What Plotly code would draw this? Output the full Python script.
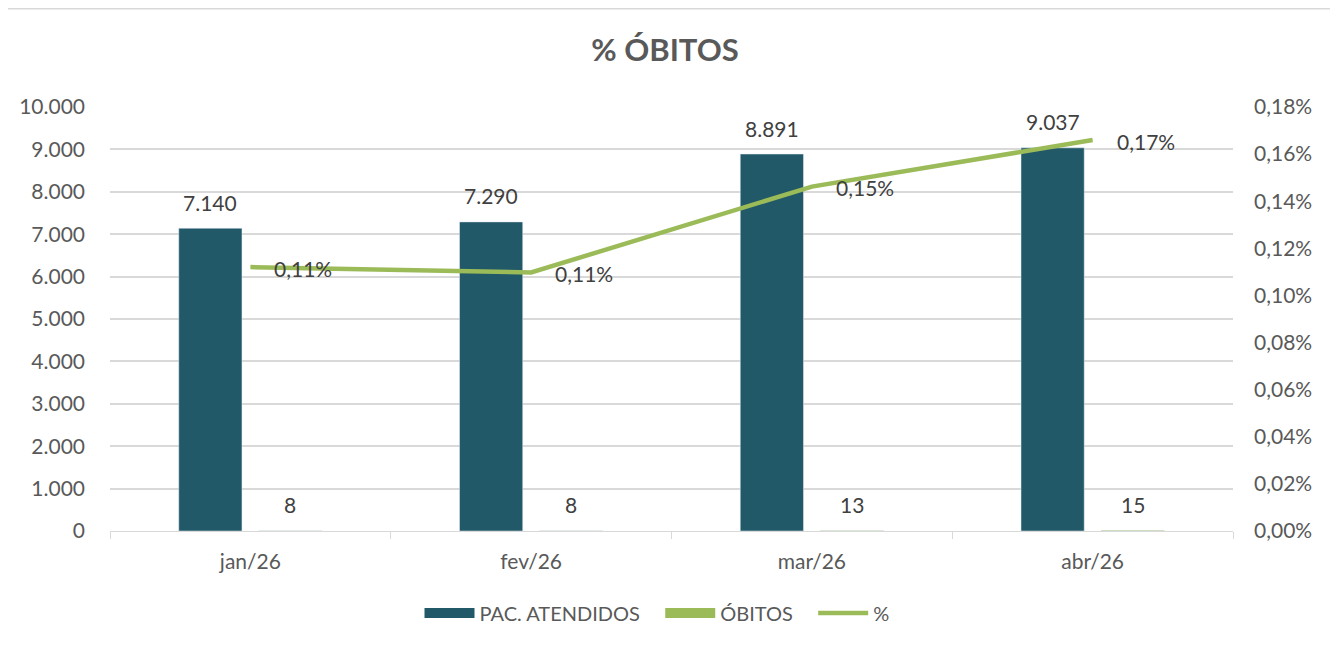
import plotly.graph_objects as go

categories = ["jan/26", "fev/26", "mar/26", "abr/26"]
pac_atendidos = [7140, 7290, 8891, 9037]
obitos = [8, 8, 13, 15]
percent = [o / p for o, p in zip(obitos, pac_atendidos)]
pct_labels = ["0,11%", "0,11%", "0,15%", "0,17%"]

OFF = 8  # page body margin
W, H = 1338 - OFF, 647 - OFF
ML, MT = 110 - OFF, 107 - OFF
PW, PH = 1123, 424
MR, MB = W - ML - PW, H - MT - PH

FONT = "Lato"
TXT = "#595959"
LBL = "#404040"
TEAL = "#225968"
GREEN = "#9BBB59"
GRID = "#D9D9D9"
NBSP = "\u00a0"

def fmt_int(v):
    return f"{v:,}".replace(",", ".")

fig = go.Figure()
fig.add_trace(go.Bar(x=categories, y=pac_atendidos, name="PAC. ATENDIDOS",
                     marker_color=TEAL, yaxis="y", showlegend=False))
fig.add_trace(go.Bar(x=categories, y=obitos, name="ÓBITOS",
                     marker_color=GREEN, yaxis="y", showlegend=False))
fig.add_trace(go.Scatter(x=categories, y=percent, name="%", mode="lines",
                         line=dict(color=GREEN, width=4.5), yaxis="y2", showlegend=False))
# legend entries (wide rectangles like the original)
fig.add_trace(go.Scatter(x=[None], y=[None], mode="lines", name="PAC. ATENDIDOS" + NBSP * 3,
                         line=dict(color=TEAL, width=14)))
fig.add_trace(go.Scatter(x=[None], y=[None], mode="lines", name="ÓBITOS" + NBSP * 3,
                         line=dict(color=GREEN, width=14)))
fig.add_trace(go.Scatter(x=[None], y=[None], mode="lines", name="%",
                         line=dict(color=GREEN, width=4.5)))

ann = []
for c, v in zip(categories, pac_atendidos):
    ann.append(dict(x=c, y=v, xref="x", yref="y", text=fmt_int(v), showarrow=False,
                    xshift=-40, yshift=26, yanchor="middle",
                    font=dict(family=FONT, size=21, color=LBL)))
for c, v in zip(categories, obitos):
    ann.append(dict(x=c, y=v, xref="x", yref="y", text=fmt_int(v), showarrow=False,
                    xshift=40, yshift=26, yanchor="middle",
                    font=dict(family=FONT, size=21, color=LBL)))
for c, v, t in zip(categories, percent, pct_labels):
    ann.append(dict(x=c, y=v, xref="x", yref="y2", text=t, showarrow=False,
                    xshift=22, yshift=-1, xanchor="left", yanchor="middle",
                    font=dict(family=FONT, size=21, color=LBL)))

# outer chart border (top and right edges)
x0 = (0 - ML) / PW
x1 = (1332 - OFF - ML) / PW
ytop = (MT + PH - 0.5) / PH
ybot = (MT + PH - H) / PH
shapes = [
    dict(type="line", xref="paper", yref="paper", x0=x0, x1=x1, y0=ytop, y1=ytop,
         line=dict(color=GRID, width=2)),
    dict(type="line", xref="paper", yref="paper", x0=x1, x1=x1, y0=ytop, y1=ybot,
         line=dict(color=GRID, width=2)),
]

fig.update_layout(
    width=W, height=H,
    margin=dict(l=ML, r=MR, t=MT, b=MB),
    paper_bgcolor="white", plot_bgcolor="white",
    separators=",.",
    font=dict(family=FONT, size=21, color=TXT),
    title=dict(text="<b>% ÓBITOS</b>", x=(665 - OFF) / W, xref="container", xanchor="center",
               y=1 - (50 - OFF) / H, yref="container", yanchor="middle",
               font=dict(family=FONT, size=31, color=TXT)),
    barmode="group", bargap=0.43, bargroupgap=0.21,
    xaxis=dict(showgrid=False, showline=True, linecolor=GRID, linewidth=1,
               ticks="outside", tickson="boundaries", ticklen=7, tickcolor=GRID,
               ticklabelstandoff=12,
               tickfont=dict(family=FONT, size=21, color=TXT)),
    yaxis=dict(range=[0, 10000], dtick=1000, tickformat=",d", showgrid=True,
               gridcolor=GRID, gridwidth=1.5, zeroline=False, showline=False,
               ticks="", ticklabelstandoff=24,
               tickfont=dict(family=FONT, size=21, color=TXT)),
    yaxis2=dict(range=[0, 0.0018], dtick=0.0002, tickformat=".2%", overlaying="y",
                side="right", showgrid=False, zeroline=False, showline=False,
                ticks="", ticklabelstandoff=20,
                tickfont=dict(family=FONT, size=21, color=TXT)),
    legend=dict(orientation="h", x=(657 - OFF - ML) / PW, xanchor="center",
                y=-82 / PH, yanchor="middle",
                xref="paper", font=dict(family=FONT, size=20, color=TXT),
                itemwidth=50, traceorder="normal", bgcolor="rgba(0,0,0,0)"),
    annotations=ann,
    shapes=shapes,
)

fig.write_html("out.html")
